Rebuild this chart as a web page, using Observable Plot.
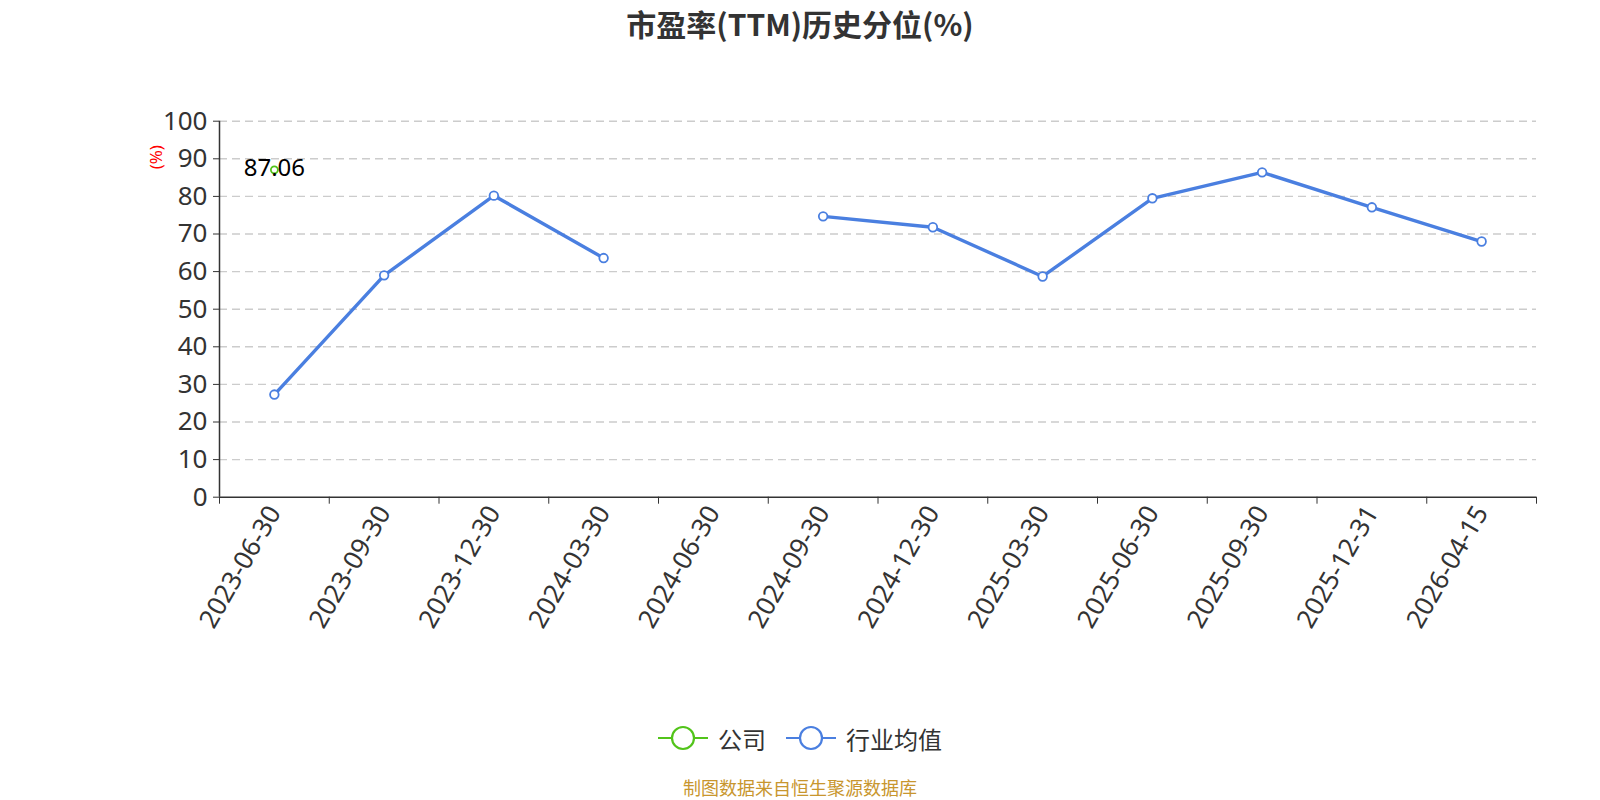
<!DOCTYPE html>
<html>
<head>
<meta charset="utf-8">
<script src="https://cdn.jsdelivr.net/npm/d3@7"></script>
<script src="https://cdn.jsdelivr.net/npm/@observablehq/plot@0.6"></script>
<style>
  body { margin: 0; background: #fff; font-family: "Noto Sans", "Noto Sans CJK SC", sans-serif; }
  #wrap { position: relative; width: 1600px; height: 800px; overflow: hidden; background: #fff; }
  #title { position: absolute; top: 0; left: 0; width: 1600px; height: 46px; line-height: 46px; text-align: center;
           font-size: 30px; font-weight: bold; color: #333; font-family: "Noto Sans CJK SC", "Noto Sans", sans-serif; }
  #chart { position: absolute; top: 50px; left: 0; }
  #legend { position: absolute; top: 721px; left: 0; width: 1600px; height: 34px; display: flex; justify-content: center; align-items: center;
            font-size: 24px; color: #333; font-family: "Noto Sans CJK SC", sans-serif; }
  .item { display: flex; align-items: center; }
  .item svg { margin-right: 10px; }
  .item + .item { margin-left: 20px; }
  #caption { position: absolute; top: 776px; left: 0; width: 1600px; height: 22px; line-height: 22px; text-align: center;
             font-size: 18px; color: #c8962e; font-family: "Noto Sans CJK SC", sans-serif; }
</style>
</head>
<body>
<div id="wrap">
  <div id="title"></div>
  <div id="chart"></div>
  <div id="legend"></div>
  <div id="caption"></div>
</div>
<script>
// ---- data ----
const dates = ["2023-06-30","2023-09-30","2023-12-30","2024-03-30","2024-06-30","2024-09-30",
               "2024-12-30","2025-03-30","2025-06-30","2025-09-30","2025-12-31","2026-04-15"];
const company  = [87.06, null, null, null, null, null, null, null, null, null, null, null];
const industry = [27.3, 59.0, 80.2, 63.6, null, 74.7, 71.8, 58.7, 79.5, 86.4, 77.1, 68.0];
const yTicks = [0, 10, 20, 30, 40, 50, 60, 70, 80, 90, 100];
const seriesNames = ["公司", "行业均值"];
const colors = ["#52c41a", "#4a7fe0"];
const titleText = "市盈率(TTM)历史分位(%)";
const unitText = "(%)";
const captionText = "制图数据来自恒生聚源数据库";

document.getElementById("title").textContent = titleText;
document.getElementById("caption").textContent = captionText;

const indRows = dates.map((d, i) => ({i, pos: i + 0.5, v: industry[i]}));
const comRows = dates.map((d, i) => ({i, pos: i + 0.5, v: company[i]})).filter(r => r.v != null);
const boundaries = d3.range(0, dates.length + 1);
const centers = dates.map((d, i) => i + 0.5);

const chart = Plot.plot({
  width: 1600,
  height: 650,
  marginTop: 70.7,
  marginBottom: 203.3,
  marginLeft: 219,
  marginRight: 64,
  style: {fontFamily: "'Noto Sans', sans-serif", color: "#333", background: "#fff"},
  x: {type: "linear", domain: [0, dates.length]},
  y: {domain: [0, 100]},
  marks: [
    Plot.ruleY(yTicks.filter(t => t > 0), {stroke: "#cccccc", strokeWidth: 1.4, strokeDasharray: "8,5"}),
    Plot.axisY({ticks: yTicks, tickSize: 6, tickPadding: 6, fontSize: 26, stroke: "#333", label: null}),
    Plot.axisX({ticks: boundaries, tickSize: 7, tickFormat: () => "", stroke: "#333", label: null}),
    Plot.axisX({ticks: centers, tickSize: 0, tickPadding: 11, tickRotate: -60, fontSize: 26,
                tickFormat: d => dates[Math.round(d - 0.5)], label: null}),
    Plot.ruleX([0], {stroke: "#333", strokeWidth: 1.5}),
    Plot.ruleY([0], {stroke: "#333", strokeWidth: 1.5}),
    Plot.line(indRows, {x: "pos", y: "v", stroke: colors[1], strokeWidth: 3.4}),
    Plot.dot(indRows.filter(r => r.v != null), {x: "pos", y: "v", r: 4.3, fill: "white", stroke: colors[1], strokeWidth: 1.8}),
    Plot.dot(comRows, {x: "pos", y: "v", r: 3.5, fill: "white", stroke: colors[0], strokeWidth: 1.8}),
    Plot.text(comRows, {x: "pos", y: "v", text: d => String(d.v), fontSize: 24, fill: "#000", dy: -2}),
    Plot.text([unitText], {frameAnchor: "top-left", textAnchor: "middle", lineAnchor: "middle",
                           dx: -63, dy: 36, rotate: -90, fill: "red", fontSize: 17})
  ]
});
document.getElementById("chart").appendChild(chart);

// legend
const legend = document.getElementById("legend");
seriesNames.forEach((name, k) => {
  const item = document.createElement("div");
  item.className = "item";
  item.innerHTML = `<svg width="50" height="28"><line x1="0" x2="50" y1="14" y2="14" stroke="${colors[k]}" stroke-width="2"/>` +
    `<circle cx="25" cy="14" r="11" fill="white" stroke="${colors[k]}" stroke-width="2.2"/></svg><span>${name}</span>`;
  legend.appendChild(item);
});
</script>
</body>
</html>
